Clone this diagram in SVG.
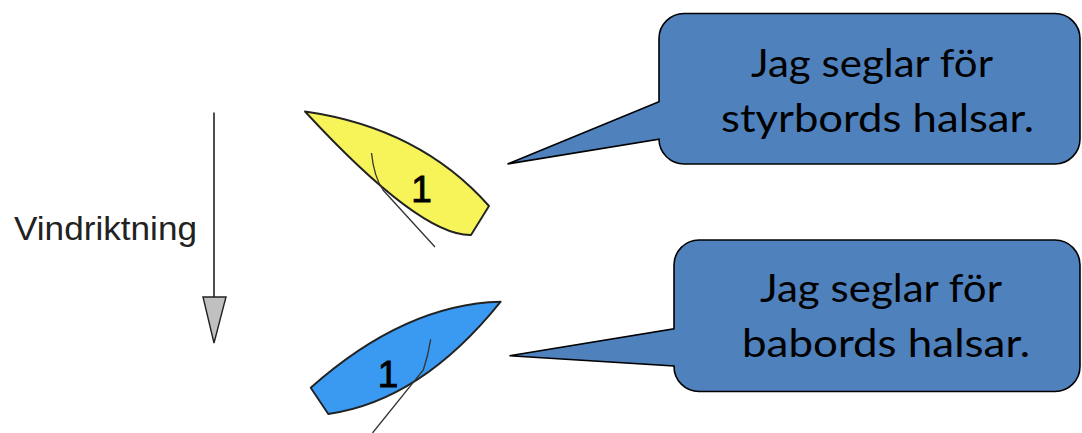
<svg xmlns="http://www.w3.org/2000/svg" width="1082" height="433" viewBox="0 0 1082 433">
<style>
.callout{fill:#4F81BD;stroke:#000;stroke-width:1.6;stroke-linejoin:miter}
.ctext{font-family:Lato,"Open Sans",sans-serif;font-size:38px;fill:#000}
.hull{stroke:#222;stroke-width:1.9;stroke-linejoin:round}
.sail{fill:none;stroke:#333;stroke-width:1.3}
.num{font-family:"Liberation Sans",Arial,sans-serif;font-size:37px;fill:#000;stroke:#000;stroke-width:0.9;text-anchor:middle}
.wind{font-family:"Liberation Sans",Arial,sans-serif;font-size:34px;fill:#222}
</style>
<rect width="1082" height="433" fill="#fff"/>
<g id="wind">
<text class="wind" x="14" y="240" textLength="183" lengthAdjust="spacingAndGlyphs">Vindriktning</text>
</g>
<g id="connectors">
<line x1="214" y1="112.5" x2="214" y2="297" stroke="#222" stroke-width="1.6"/>
<polygon points="203,297 226,297 214,343" fill="#C0C0C0" stroke="#222" stroke-width="1.4"/>
</g>
<g id="boat-yellow">
<path class="hull" fill="#F7F45A" d="M305,111.5 Q420,128 489,206 L471,235 Q420,236 305,111.5 Z"/>
<path class="sail" d="M371.5,153 Q374,177 383,190 L435,247"/>
<text class="num" x="421.5" y="201.5">1</text>
</g>
<g id="boat-blue">
<path class="hull" fill="#3A9AF2" d="M500.7,301.7 Q405,304 310.7,387.7 L328.3,414 Q421,401 500.7,301.7 Z"/>
<path class="sail" d="M430.7,339.3 Q428,356 423.3,370 L372.5,433"/>
<text class="num" x="388" y="386.5">1</text>
</g>
<g id="callout-styrbord">
<path class="callout" d="M684,13.5 H1055 A25,25 0 0 1 1080,38.5 V139 A25,25 0 0 1 1055,164 H684 A25,25 0 0 1 659,139.3 L507.5,164 L659,101.7 V38.5 A25,25 0 0 1 684,13.5 Z"/>
<text class="ctext" x="751" y="77" textLength="242" lengthAdjust="spacingAndGlyphs">Jag seglar för</text>
<text class="ctext" x="721" y="132" textLength="313" lengthAdjust="spacingAndGlyphs">styrbords halsar.</text>
</g>
<g id="callout-babord">
<path class="callout" d="M699,240 H1055 A25,25 0 0 1 1080,265 V366.5 A25,25 0 0 1 1055,391.5 H699 A25,25 0 0 1 674,366.5 V366 L509.5,355.7 L674,328.7 V265 A25,25 0 0 1 699,240 Z"/>
<text class="ctext" x="760" y="302" textLength="242" lengthAdjust="spacingAndGlyphs">Jag seglar för</text>
<text class="ctext" x="742" y="357" textLength="288" lengthAdjust="spacingAndGlyphs">babords halsar.</text>
</g>
</svg>
